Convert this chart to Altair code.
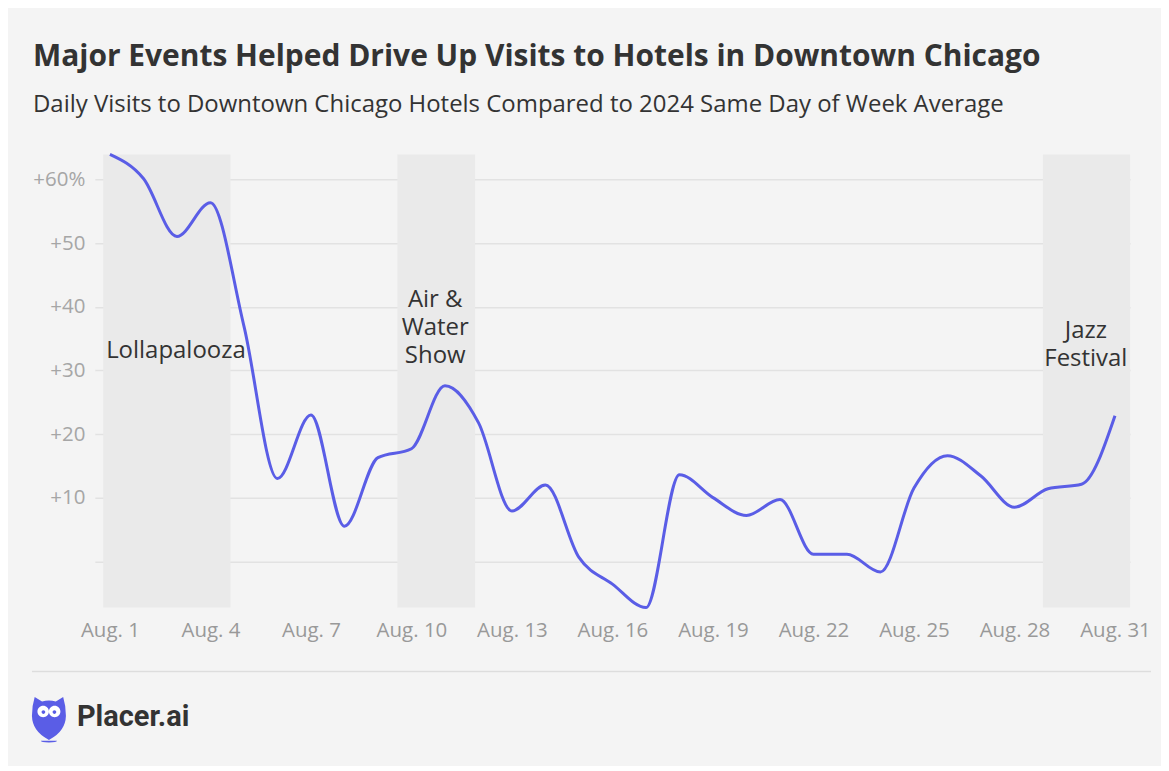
import altair as alt
import pandas as pd

# ---- data ----
days = list(range(1, 32))
values = [64.0, 60.2, 51.1, 56.4, 37.0, 13.0, 23.0, 5.5, 16.3, 17.7, 27.6,
          21.8, 7.9, 12.0, 0.6, -3.6, -7.3, 13.6, 10.0, 7.2, 9.7, 1.1, 1.1,
          -1.7, 11.5, 16.6, 13.4, 8.5, 11.4, 12.1, 22.9]

band_names = ["Lollapalooza", "Air & Water Show", "Jazz Festival"]
band_start = [0.8, 9.58, 28.85]
band_end = [4.6, 11.9, 31.45]

label_text = ["Lollapalooza", "Air &\nWater\nShow", "Jazz\nFestival"]
label_day = [2.97, 10.71, 30.13]
label_val = [33.1, 41.1, 36.2]

x_ticks = [1, 4, 7, 10, 13, 16, 19, 22, 25, 28, 31]
y_ticks = [0, 10, 20, 30, 40, 50, 60]

TITLE = "Major Events Helped Drive Up Visits to Hotels in Downtown Chicago"
SUBTITLE = "Daily Visits to Downtown Chicago Hotels Compared to 2024 Same Day of Week Average"

FONT = "Open Sans"
LINE_COLOR = "#5a5de6"

df = pd.DataFrame({"day": days, "value": values})
bands = pd.DataFrame({"name": band_names, "start": band_start, "end": band_end})
labels = pd.DataFrame({"text": label_text, "day": label_day, "value": label_val})

W, H = 1037, 454

xscale = alt.Scale(domain=[0.55, 31.45], nice=False, zero=False)
yscale = alt.Scale(domain=[min(values), max(values)], nice=False, zero=False)

xaxis = alt.Axis(values=x_ticks, labelExpr="'Aug. ' + datum.value", title=None,
                 grid=False, domain=False, ticks=False, labelFont=FONT,
                 labelFontSize=20.5, labelColor="#999999", labelPadding=13)
yaxis = alt.Axis(values=y_ticks,
                 labelExpr="datum.value == 60 ? '+60%' : (datum.value == 0 ? '' : '+' + datum.value)",
                 title=None, grid=True, gridColor="#e2e2e2", gridWidth=1.5,
                 domain=False, ticks=False, labelFont=FONT, labelFontSize=20.5,
                 labelColor="#a6a6a6", labelPadding=10)

band_layer = alt.Chart(bands).mark_rect(color="#eaeaea").encode(
    x=alt.X("start:Q", scale=xscale, axis=xaxis),
    x2="end:Q",
    y=alt.value(0),
    y2=alt.value(H),
)

# grid layer drawn over bands
grid_layer = alt.Chart(df).mark_line(opacity=0).encode(
    x=alt.X("day:Q", scale=xscale, axis=xaxis),
    y=alt.Y("value:Q", scale=yscale, axis=yaxis),
)

line_layer = alt.Chart(df).mark_line(color=LINE_COLOR, strokeWidth=3,
                                      interpolate="monotone").encode(
    x=alt.X("day:Q", scale=xscale),
    y=alt.Y("value:Q", scale=yscale),
)

label_layer = alt.Chart(labels).mark_text(font=FONT, fontSize=24, color="#333333",
                                          align="center", baseline="middle",
                                          lineBreak="\n", lineHeight=28).encode(
    x=alt.X("day:Q", scale=xscale),
    y=alt.Y("value:Q", scale=yscale),
    text="text:N",
)

# footer
footer_rule = alt.Chart(df.head(1)).mark_rule(color="#dddddd", strokeWidth=1.5).encode(
    x=alt.value(-63), x2=alt.value(1058), y=alt.value(518),
)

owl_body = ("M -0.62 -0.98 L -0.3 -0.78 Q 0 -0.86 0.3 -0.78 L 0.62 -0.98 "
            "Q 0.74 -0.6 0.74 -0.15 Q 0.72 0.5 0.05 0.86 L 0 0.9 L -0.05 0.86 "
            "Q -0.72 0.5 -0.74 -0.15 Q -0.74 -0.6 -0.62 -0.98 Z")
owl_base = "M -0.35 0.93 L 0.35 0.93 Q 0.35 1 0 1 Q -0.35 1 -0.35 0.93 Z"
owl_eyes = ("M -0.5 -0.35 A 0.25 0.25 0 1 1 0 -0.35 A 0.25 0.25 0 1 1 -0.5 -0.35 Z "
            "M 0 -0.35 A 0.25 0.25 0 1 1 0.5 -0.35 A 0.25 0.25 0 1 1 0 -0.35 Z")
owl_pupils = ("M -0.32 -0.32 A 0.08 0.08 0 1 1 -0.16 -0.32 A 0.08 0.08 0 1 1 -0.32 -0.32 Z "
              "M 0.16 -0.32 A 0.08 0.08 0 1 1 0.32 -0.32 A 0.08 0.08 0 1 1 0.16 -0.32 Z")

logo_base = alt.Chart(df.head(1))
owl1 = logo_base.mark_point(shape=owl_body, filled=True, color=LINE_COLOR, opacity=1,
                            size=2116).encode(x=alt.value(-46), y=alt.value(566))
owl2 = logo_base.mark_point(shape=owl_base, filled=True, color=LINE_COLOR, opacity=1,
                            size=2116).encode(x=alt.value(-46), y=alt.value(566))
owl3 = logo_base.mark_point(shape=owl_eyes, filled=True, color="#ffffff", opacity=1,
                            size=2116).encode(x=alt.value(-46), y=alt.value(566))
owl4 = logo_base.mark_point(shape=owl_pupils, filled=True, color=LINE_COLOR, opacity=1,
                            size=2116).encode(x=alt.value(-46), y=alt.value(566))

brand = logo_base.mark_text(text="Placer.ai", font="Roboto", fontWeight="bold",
                            fontSize=29, color="#333333", align="left",
                            baseline="middle").encode(x=alt.value(-18), y=alt.value(564))

chart = alt.layer(
    band_layer, grid_layer, line_layer, label_layer,
    footer_rule, owl1, owl2, owl3, owl4, brand,
).properties(
    width=W, height=H,
    autosize=alt.AutoSizeParams(type="none"),
    padding={"left": 87, "top": 146, "right": 31, "bottom": 158},
    background="#f4f4f4",
    title=alt.TitleParams(
        text=TITLE, subtitle=SUBTITLE, anchor="start", frame="group", dx=-62,
        font=FONT, fontSize=30, fontWeight="bold", color="#333333",
        subtitleFont=FONT, subtitleFontSize=24, subtitleColor="#333333",
        offset=31, subtitlePadding=22,
    ),
).configure_view(stroke=None)

chart.save("out.html", embed_options={"renderer": "svg", "actions": False})
